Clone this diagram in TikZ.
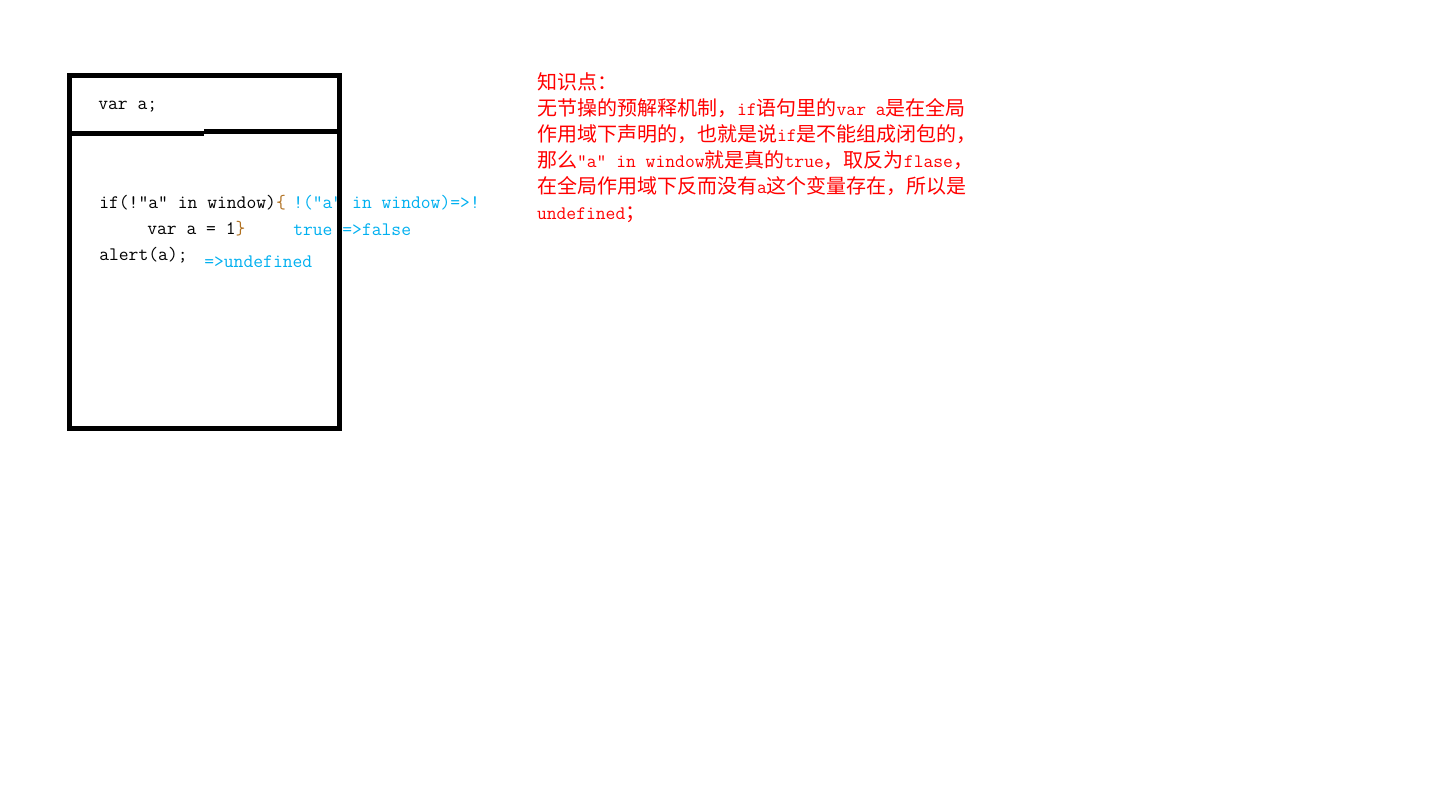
\documentclass[tikz,border=0pt]{standalone}
\usepackage{fontspec}
\newcommand\codefont{\ttfamily}
\newfontfamily\cjk[Scale=1.049]{Noto Sans CJK SC}
\usetikzlibrary{positioning}
\definecolor{notered}{RGB}{255,0,0}
\definecolor{hintblue}{RGB}{0,176,240}
\definecolor{bracebrown}{RGB}{176,112,32}
\tikzset{
  code/.style={anchor=base west, inner sep=0pt, text=black,
    font=\codefont\fontsize{14.3pt}{19.5pt}\selectfont},
  hint/.style={code, text=hintblue},
  noteline/.style={inner sep=0pt, outer sep=0pt, text height=14pt,
    text depth=5.5pt, text=notered,
    font=\codefont\fontsize{14.3pt}{19.5pt}\selectfont},
  scopebox/.style={draw=black, line width=3.75pt, minimum width=202.5pt,
    minimum height=265.1pt, inner sep=0pt},
  divider/.style={draw=black, line width=3.2pt},
}

\begin{document}
\begin{tikzpicture}[x=0.75pt, y=-0.75pt]
  \fill[white] (0,0) rectangle (1452,796);
  \useasboundingbox (0,0) rectangle (1452,796);
  % code in the window scope
  \node[code] (decl) at (98,109) {var a;};
  \node[code] (cond) at (99,208) {if(!"a" in window)\textcolor{bracebrown}{\{}};
  \node[code] (body) at (147,234) {var a = 1\textcolor{bracebrown}{\}}};
  \node[code] (call) at (99,260) {alert(a);};
  \node[hint] (negate) at (293,208) {!("a" in window)=>!};
  \node[hint] (result) at (293,235) {true =>false};
  \node[hint] (output) at (204,267) {=>undefined};
  % window box
  \node[scopebox] (winbox) at (204.5,252.25) {};
  \coordinate (stepL) at (204,133.5);
  \coordinate (stepR) at (204,131.5);
  \draw[divider] (winbox.west |- stepL) -- (stepL);
  \draw[divider] (stepR) -- (winbox.east |- stepR);
  % note
  \node[noteline, anchor=base west] (note1) at (537,89) {{\cjk 知识点：}};
  \node[noteline, below=0pt of note1.south west, anchor=north west] (note2)
    {{\cjk 无节操的预解释机制，}if{\cjk 语句里的}var a{\cjk 是在全局}};
  \node[noteline, below=0pt of note2.south west, anchor=north west] (note3)
    {{\cjk 作用域下声明的，也就是说}if{\cjk 是不能组成闭包的，}};
  \node[noteline, below=0pt of note3.south west, anchor=north west] (note4)
    {{\cjk 那么}"a" in window{\cjk 就是真的}true{\cjk ，取反为}flase{\cjk ，}};
  \node[noteline, below=0pt of note4.south west, anchor=north west] (note5)
    {{\cjk 在全局作用域下反而没有}a{\cjk 这个变量存在，所以是}};
  \node[noteline, below=0pt of note5.south west, anchor=north west] (note6)
    {undefined{\cjk ；}};
\end{tikzpicture}
\end{document}
